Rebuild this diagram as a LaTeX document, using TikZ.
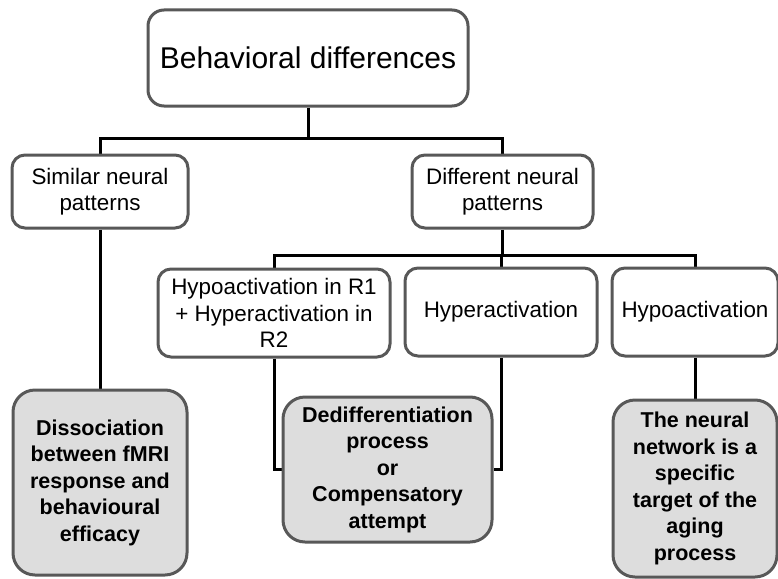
\documentclass[tikz,border=0pt]{standalone}
\usepackage{fontspec}
\setmainfont{Liberation Sans}
\usetikzlibrary{backgrounds}
\definecolor{boxgray}{RGB}{88,88,88}
\definecolor{resfill}{RGB}{221,221,221}
\begin{document}
\begin{tikzpicture}[x=1pt,y=-1pt,
  box/.style={draw=boxgray, line width=3pt, rounded corners=13pt, fill=white,
    inner sep=0pt, align=center, font=\fontsize{22.4}{26.5}\selectfont},
  resbox/.style={box, fill=resfill, rounded corners=22pt,
    font=\bfseries\fontsize{21.5}{26.5}\selectfont},
  conn/.style={line width=3pt, black}]
\useasboundingbox (0,0) rectangle (778,578);

% top level
\node[box, rounded corners=16pt, minimum width=320pt, minimum height=96pt,
  font=\fontsize{30}{36}\selectfont] (top) at (308,58) {Behavioral differences};

% second level
\node[box, minimum width=176pt, minimum height=73pt] (sim) at (100,191.5)
  {Similar neural\\patterns};
\node[box, minimum width=181pt, minimum height=73pt] (diff) at (502.5,191.5)
  {Different neural\\patterns};

% third level
\node[box, minimum width=232pt, minimum height=88pt] (hr1) at (274,313)
  {Hypoactivation in R1\\+ Hyperactivation in\\R2};
\node[box, minimum width=192pt, minimum height=88pt] (hyper) at (501,312)
  {Hyperactivation};
\node[box, minimum width=166pt, minimum height=88pt] (hypo) at (695,312)
  {Hypoactivation};

% interpretations
\node[resbox, minimum width=174pt, minimum height=185pt] (diss) at (100,482.5)
  {Dissociation\\between fMRI\\response and\\behavioural\\efficacy};
\node[resbox, minimum width=209pt, minimum height=145pt] (dediff) at (387.5,469.5)
  {Dedifferentiation\\process\\or\\Compensatory\\attempt};
\node[resbox, minimum width=164pt, minimum height=177pt] (net) at (695,488.5)
  {The neural\\network is a\\specific\\target of the\\aging\\process};

% connectors
\coordinate (bus1) at (0,138);
\coordinate (bus2) at (0,255);
\begin{scope}[on background layer]
  \draw[conn] (top.south) -- (top.south |- bus1);
  \draw[conn] (sim.north) -- (sim.north |- bus1) -- (diff.north |- bus1) -- (diff.north);
  \draw[conn] (diff.south) -- (diff.south |- bus2);
  \draw[conn] (hr1.north) -- (hr1.north |- bus2) -- (hypo.north |- bus2) -- (hypo.north);
  \draw[conn] (hyper.north) -- (hyper.north |- bus2);
  \draw[conn] (sim.south) -- (diss.north);
  \draw[conn] (hr1.south) |- (dediff.west);
  \draw[conn] (hyper.south) |- (dediff.east);
  \draw[conn] (hypo.south) -- (net.north);
\end{scope}
\end{tikzpicture}
\end{document}
